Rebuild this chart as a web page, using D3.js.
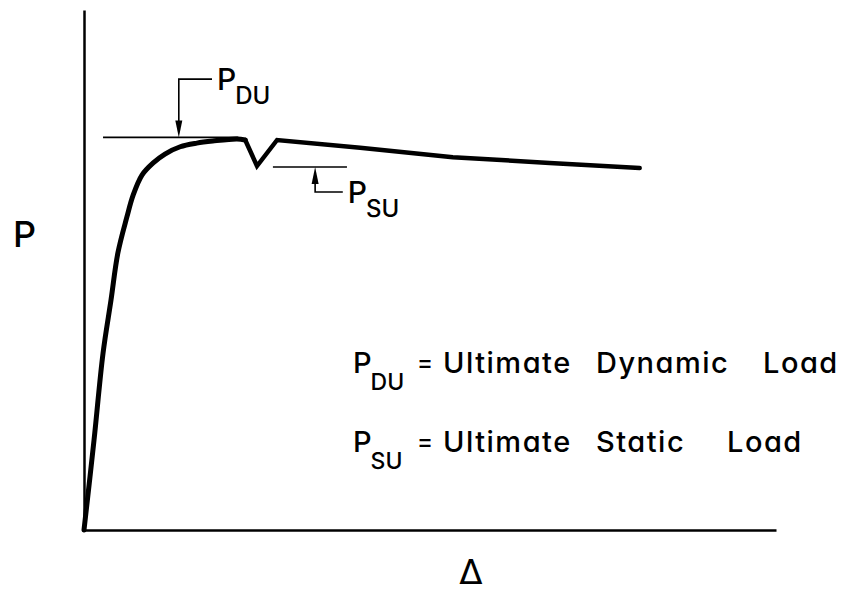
<!DOCTYPE html>
<html>
<head>
<meta charset="utf-8">
<script src="https://cdn.jsdelivr.net/npm/d3@7"></script>
<style>
  body { margin: 0; background: #fff; }
  text { font-family: Inter, "DejaVu Sans", sans-serif; font-feature-settings: "cv11" 1; font-weight: 500; fill: #000; }
</style>
</head>
<body>
<div id="chart"></div>
<script>
// Load - deflection curve (both axes in % of axis length)
var riseDelta = [0, 1.45, 2.75, 3.9, 4.9, 6.2, 7.1, 8.4, 10.0, 11.7, 13.9, 16.3, 18.6, 22.1, 23.3];
var riseLoad  = [0, 17.3, 34.0, 44.2, 53.3, 60.2, 64.4, 68.3, 70.6, 72.3, 73.7, 74.4, 74.8, 75.2, 75.0];
var tailDelta = [23.3, 25.0, 27.9, 39.9, 53.3, 67.3, 80.3];
var tailLoad  = [75.0, 70.0, 75.0, 73.5, 71.7, 70.6, 69.6];

// the two marked load levels
var levelNames = ["DU", "SU"];
var levelLoad  = [75.5, 69.8];
var levelFrom  = [2.75, 27.3];
var levelTo    = [22.3, 38.0];
var arrowDelta = [13.7, 33.4];
var leaderLoad = [86.7, 65.0];
var leaderTo   = [18.5, 37.4];

var defWords = [["Ultimate", "Dynamic", "Load"], ["Ultimate", "Static", "Load"]];

var w = 849, h = 593;

var x = d3.scaleLinear().domain([0, 100]).range([84, 776]);
var y = d3.scaleLinear().domain([0, 100]).range([530, 10]);

var svg = d3.select("#chart").append("svg")
  .attr("width", w)
  .attr("height", h);

// axes: plain lines, no ticks
svg.append("g")
  .attr("transform", "translate(0," + y(0) + ")")
  .call(d3.axisBottom(x).ticks(0).tickSizeOuter(0))
  .select(".domain").attr("stroke-width", 2.5);
svg.append("g")
  .attr("transform", "translate(" + x(0) + ",0)")
  .call(d3.axisLeft(y).ticks(0).tickSizeOuter(0))
  .select(".domain").attr("stroke-width", 2.5);

// curve
var rise = riseDelta.map(function(d, i) { return [d, riseLoad[i]]; });
var tail = tailDelta.map(function(d, i) { return [d, tailLoad[i]]; });

var smooth = d3.line()
  .x(function(d) { return x(d[0]); })
  .y(function(d) { return y(d[1]); })
  .curve(d3.curveCatmullRom.alpha(0.5));
var straight = d3.line()
  .x(function(d) { return x(d[0]); })
  .y(function(d) { return y(d[1]); });

svg.append("path")
  .attr("d", smooth(rise))
  .attr("fill", "none").attr("stroke", "#000").attr("stroke-width", 5)
  .attr("stroke-linejoin", "round").attr("stroke-linecap", "round");
svg.append("path")
  .attr("d", straight(tail))
  .attr("fill", "none").attr("stroke", "#000").attr("stroke-width", 4.5)
  .attr("stroke-linejoin", "miter").attr("stroke-linecap", "round");

// level markers with arrows and leaders
levelNames.forEach(function(name, i) {
  var g = svg.append("g");
  var ly = y(levelLoad[i]), ay = y(leaderLoad[i]), ax = x(arrowDelta[i]);
  var dir = ay < ly ? 1 : -1; // 1: arrow points down

  g.append("line")
    .attr("x1", x(levelFrom[i])).attr("x2", x(levelTo[i]))
    .attr("y1", ly).attr("y2", ly)
    .attr("stroke", "#000").attr("stroke-width", 1.6);

  g.append("path")
    .attr("d", "M" + x(leaderTo[i]) + "," + ay + "H" + ax + "V" + (ly - dir * 10))
    .attr("fill", "none").attr("stroke", "#000").attr("stroke-width", 1.6);

  g.append("path")
    .attr("d", "M" + ax + "," + ly + "L" + (ax - 3.5) + "," + (ly - dir * 17) +
               "L" + (ax + 3.5) + "," + (ly - dir * 17) + "Z")
    .attr("fill", "#000");

  var t = g.append("text")
    .attr("x", x(leaderTo[i]) + 5)
    .attr("y", ay + 11)
    .style("font-size", "30px");
  t.append("tspan").text("P");
  t.append("tspan").attr("dy", 14).attr("dx", -1).style("font-size", "24px").text(name);
});

// axis labels
svg.append("text").attr("x", 13).attr("y", 247).style("font-size", "36px").text("P");
svg.append("text").attr("x", 471).attr("y", 584).attr("text-anchor", "middle")
  .style("font-family", "DejaVu Sans").style("font-weight", "normal")
  .style("font-size", "34px").text("\u0394");

// definitions
var wordX = [[443, 596, 763], [443, 596, 727]];
var rowY = [373, 452];
defWords.forEach(function(words, i) {
  var g = svg.append("g");
  var t = g.append("text").attr("x", 353).attr("y", rowY[i]).style("font-size", "29px");
  t.append("tspan").text("P");
  t.append("tspan").attr("dy", 17).attr("dx", -1).style("font-size", "23px").text(levelNames[i]);
  g.append("text").attr("x", 417).attr("y", rowY[i] - 2).style("font-size", "24px").text("=");
  g.selectAll(".word")
    .data(words)
    .enter().append("text")
    .attr("class", "word")
    .attr("x", function(d, j) { return wordX[i][j]; })
    .attr("y", rowY[i])
    .style("font-size", "29px")
    .style("letter-spacing", "1.5px")
    .text(function(d) { return d; });
});
</script>
</body>
</html>
